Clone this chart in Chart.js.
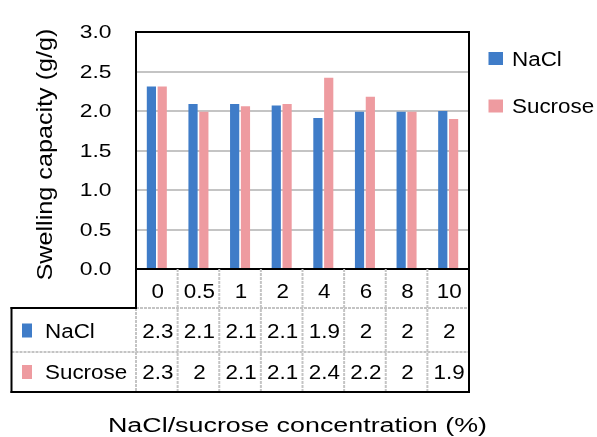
<!DOCTYPE html>
<html>
<head>
<meta charset="utf-8">
<script src="https://cdn.jsdelivr.net/npm/chart.js@4/dist/chart.umd.min.js"></script>
<style>
  html, body { margin: 0; padding: 0; background: #ffffff; }
  #wrap { position: relative; width: 597px; height: 437px; }
</style>
</head>
<body>
<div id="wrap"><canvas id="c"></canvas></div>
<script>
// ---- data ----
const categories = ['0', '0.5', '1', '2', '4', '6', '8', '10'];
const seriesNames = ['NaCl', 'Sucrose'];
const naclValues = [2.31, 2.09, 2.09, 2.07, 1.91, 1.99, 1.99, 2.00];
const sucroseValues = [2.31, 1.99, 2.06, 2.09, 2.42, 2.18, 1.99, 1.90];
const yTickValues = [0, 0.5, 1.0, 1.5, 2.0, 2.5, 3.0];
const yTitle = 'Swelling capacity (g/g)';
const xTitle = 'NaCl/sucrose concentration (%)';

const BLUE = '#3f7cc8';
const PINK = '#ee9ba0';
const GRID = '#c4c4c4';
const FONT = '"Liberation Sans", Arial, sans-serif';

function fmtTable(v) { return String(Number(v.toFixed(1))); }

function drawText(ctx, s, x, yBase, size, sx, align) {
  ctx.save();
  ctx.font = size + 'px ' + FONT;
  ctx.textAlign = 'left';
  ctx.textBaseline = 'alphabetic';
  ctx.fillStyle = '#000';
  const w = ctx.measureText(s).width * sx;
  let x0 = x;
  if (align === 'center') x0 = x - w / 2;
  else if (align === 'right') x0 = x - w;
  ctx.translate(x0, yBase);
  ctx.scale(sx, 1);
  ctx.fillText(s, 0, 0);
  ctx.restore();
}
// center-y helper for cap-height centred text
function drawTextMid(ctx, s, x, yMid, size, sx, align) {
  drawText(ctx, s, x, yMid + size * 0.358, size, sx, align);
}

function line(ctx, x1, y1, x2, y2, color, width, dash) {
  ctx.save();
  ctx.strokeStyle = color;
  ctx.lineWidth = width;
  ctx.setLineDash(dash || []);
  ctx.beginPath();
  ctx.moveTo(x1, y1);
  ctx.lineTo(x2, y2);
  ctx.stroke();
  ctx.restore();
}

const decorPlugin = {
  id: 'decor',
  afterDatasetsDraw(chart) {
    const ctx = chart.ctx;
    const a = chart.chartArea;
    const xs = chart.scales.x;
    const ys = chart.scales.y;
    const n = categories.length;
    const cw = (a.right - a.left) / n;

    // plot frame
    ctx.save();
    ctx.strokeStyle = '#000';
    ctx.lineWidth = 2;
    ctx.strokeRect(a.left, a.top, a.right - a.left, a.bottom - a.top);
    ctx.restore();

    // y tick labels
    yTickValues.forEach(v => {
      drawTextMid(ctx, v.toFixed(1), a.left - 24.5, ys.getPixelForValue(v), 18, 1.27, 'right');
    });

    // y title
    ctx.save();
    ctx.translate(52, (a.top + a.bottom) / 2 + 4);
    ctx.rotate(-Math.PI / 2);
    ctx.font = '22px ' + FONT;
    ctx.fillStyle = '#000';
    const tw = ctx.measureText(yTitle).width * 1.145;
    ctx.translate(-tw / 2, 0);
    ctx.scale(1.145, 1);
    ctx.fillText(yTitle, 0, 0);
    ctx.restore();

    // legend
    const legY = [58.5, 106];
    const cols = [BLUE, PINK];
    seriesNames.forEach((nm, i) => {
      ctx.fillStyle = cols[i];
      ctx.fillRect(488.5, legY[i] - 6.5, 14.5, 13);
      drawTextMid(ctx, nm, 512, legY[i], 20, 1.12, 'left');
    });

    // data table
    const tTop = a.bottom;
    const r1 = 308, r2 = 352, r3 = 392;
    const tLeft = 11.5;
    const dash = [3, 1];
    // gray inner lines
    line(ctx, a.left, r1, a.right, r1, GRID, 2, dash);
    line(ctx, tLeft, r2, a.right, r2, GRID, 2, dash);
    line(ctx, a.left, r1, a.left, r3, GRID, 2, dash);
    for (let i = 1; i < n; i++) {
      const bx = xs.getPixelForValue(i) - cw / 2;
      line(ctx, bx, tTop, bx, r3, GRID, 2, dash);
    }
    // black outer lines
    line(ctx, a.left, tTop, a.left, r1 + 1, '#000', 2);
    line(ctx, tLeft - 1, r1, a.left + 1, r1, '#000', 2);
    line(ctx, tLeft, r1 - 1, tLeft, r3 + 1, '#000', 2);
    line(ctx, tLeft - 1, r3, a.right + 1, r3, '#000', 2);
    line(ctx, a.right, tTop, a.right, r3 + 1, '#000', 2);

    // header labels and values
    const rows = [naclValues, sucroseValues];
    const rowMid = [330.5, 372];
    categories.forEach((c, i) => {
      const cx = xs.getPixelForValue(i) + 1;
      drawTextMid(ctx, c, cx, 290.5, 20, 1.12, 'center');
      rows.forEach((vals, r) => {
        drawTextMid(ctx, fmtTable(vals[i]), cx, rowMid[r], 20, 1.12, 'center');
      });
    });
    seriesNames.forEach((nm, r) => {
      ctx.fillStyle = cols[r];
      ctx.fillRect(22, rowMid[r] - 7, 10, 14);
      drawTextMid(ctx, nm, 45, rowMid[r], 20, 1.12, 'left');
    });

    // x title
    drawText(ctx, xTitle, 297.5, 431.7, 19.5, 1.377, 'center');
  }
};

new Chart(document.getElementById('c'), {
  type: 'bar',
  data: {
    labels: categories,
    datasets: [
      { label: seriesNames[0], data: naclValues, backgroundColor: BLUE,
        categoryPercentage: 0.52, barPercentage: 0.85 },
      { label: seriesNames[1], data: sucroseValues, backgroundColor: PINK,
        categoryPercentage: 0.52, barPercentage: 0.85 }
    ]
  },
  options: {
    responsive: true,
    maintainAspectRatio: false,
    animation: false,
    devicePixelRatio: 1,
    layout: { padding: { left: 136, right: 128, top: 32, bottom: 168 } },
    plugins: { legend: { display: false }, tooltip: { enabled: false }, title: { display: false } },
    scales: {
      x: {
        ticks: { display: false },
        grid: { display: false, drawTicks: false },
        border: { display: false }
      },
      y: {
        min: 0, max: 3, 
        ticks: { display: false, stepSize: 0.5 },
        grid: { color: GRID, lineWidth: 2, drawTicks: false },
        border: { display: false }
      }
    }
  },
  plugins: [decorPlugin]
});
</script>
</body>
</html>
